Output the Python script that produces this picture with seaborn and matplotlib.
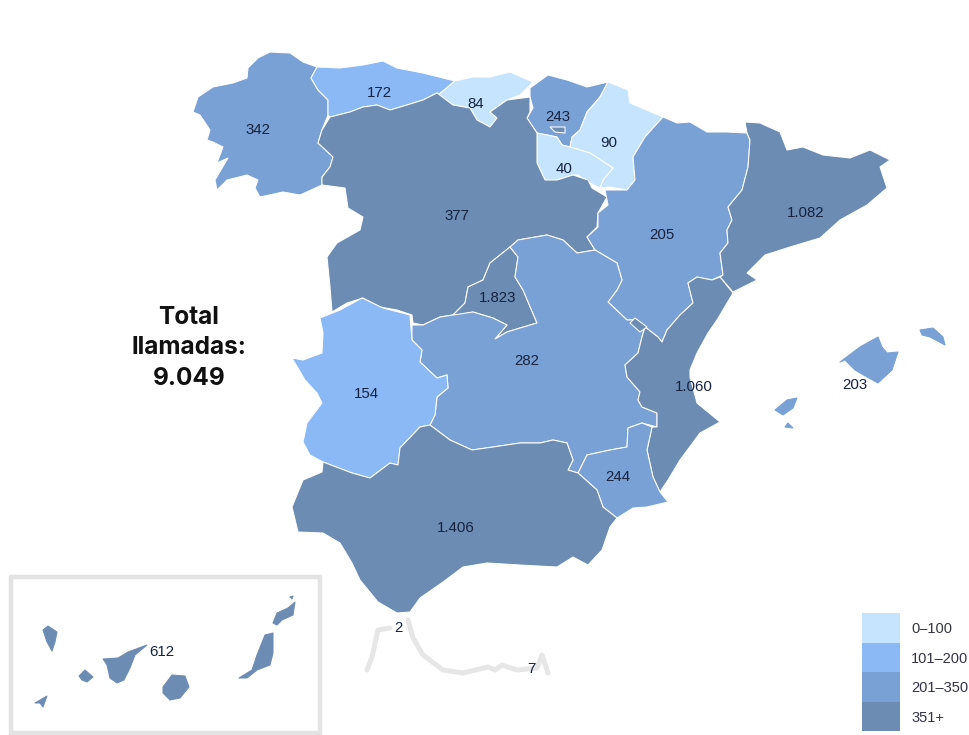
#Choropleth of calls per region in Spain, outlines
import numpy as np
import pandas as pd
import seaborn as sns
import matplotlib.pyplot as plt

regions = ["Galicia", "Asturias", "Cantabria", "Pais Vasco", "Navarra", "La Rioja", "Castilla y Leon",
           "Madrid", "Aragon", "Cataluna", "Castilla-La Mancha", "Extremadura", "Valencia", "Baleares",
           "Murcia", "Andalucia", "Canarias", "Ceuta", "Melilla"]
values = [342, 172, 84, 243, 90, 40, 377, 1823, 205, 1082, 282, 154, 1060, 203, 244, 1406, 612, 2, 7]
label_x = [258, 379, 476, 558, 609, 564, 457, 498, 662, 806, 527, 366, 694, 855, 618, 456, 162, 398, 531]
label_y = [130, 93, 104, 117, 143, 169, 216, 298, 235, 213, 361, 394, 387, 385, 477, 528, 652, 628, 669]

tier_labels = ["0\u2013100", "101\u2013200", "201\u2013350", "351+"]
tier_edges = [0, 100, 200, 350, 100000]
tier_colors = ["#c6e4fd", "#8ab9f6", "#7aa1d5", "#6d8cb3"]
total_lines = ["Total", "llamadas:", "9.049"]

#outlines in picture pixels
galicia = [(193,112),(198,97),(213,87),(233,83),(247,78),(248,68),(258,58),(270,52),(290,53),(303,62),(317,67),(311,78),(318,90),(328,100),(328,115),(322,130),(318,143),(333,157),(330,167),(322,177),(322,185),(300,195),(283,192),(260,197),(255,188),(258,180),(247,175),(227,180),(217,190),(215,180),(228,158),(217,163),(223,147),(213,142),(207,140),(210,130),(200,115)]
asturias = [(317,67),(340,68),(363,65),(383,61),(397,68),(423,73),(455,81),(438,95),(437,93),(423,100),(407,105),(390,110),(377,105),(363,107),(350,112),(330,117),(328,115),(328,100),(318,90),(311,78)]
cantabria = [(455,81),(473,77),(490,77),(510,72),(533,82),(520,95),(507,100),(490,112),(497,118),(490,127),(477,120),(470,108),(453,105),(438,95)]
pais_vasco = [(530,88),(548,75),(567,80),(587,87),(608,82),(600,97),(587,112),(580,130),(572,137),(570,147),(562,145),(557,137),(537,133),(527,118),(533,108),(530,97)]
navarra = [(608,82),(628,90),(630,103),(663,117),(645,137),(633,157),(635,180),(627,190),(610,187),(600,188),(603,180),(613,168),(590,153),(570,147),(572,137),(580,130),(587,112),(600,97)]
rioja = [(537,133),(557,137),(562,145),(570,147),(590,153),(613,168),(603,180),(600,188),(590,183),(578,175),(573,175),(557,180),(552,184),(545,180),(537,163)]
cyl = [(330,117),(350,112),(363,107),(377,105),(390,110),(407,105),(423,100),(437,93),(453,105),(470,108),(477,120),(490,127),(497,118),(490,112),(507,100),(530,97),(530,112),(527,118),(537,133),(537,163),(545,180),(557,180),(573,175),(588,180),(592,188),(607,197),(598,213),(597,227),(587,237),(595,250),(577,253),(563,240),(547,235),(518,240),(510,247),(490,263),(483,280),(468,287),(465,303),(453,315),(440,317),(423,325),(413,323),(412,315),(397,310),(380,307),(363,298),(347,303),(332,312),(330,287),(327,257),(337,243),(360,230),(363,217),(348,208),(345,188),(322,185),(322,177),(330,167),(333,157),(318,143),(322,130)]
madrid = [(510,247),(518,257),(515,277),(523,290),(537,323),(520,328),(507,332),(495,339),(507,325),(493,318),(473,312),(457,315),(453,315),(465,303),(468,287),(483,280),(490,263)]
clm = [(518,240),(547,235),(563,240),(577,253),(595,250),(617,263),(622,280),(617,290),(608,302),(627,320),(633,320),(645,327),(642,337),(638,353),(625,365),(627,377),(640,392),(638,400),(642,407),(657,413),(657,427),(642,423),(628,428),(627,447),(610,450),(587,455),(578,473),(568,470),(573,460),(567,443),(553,440),(540,443),(520,443),(493,447),(472,450),(450,440),(430,425),(435,415),(437,397),(448,388),(447,375),(437,378),(420,362),(422,350),(412,340),(412,325),(423,325),(440,317),(453,315),(473,312),(493,318),(507,325),(495,339),(507,332),(520,328),(537,323),(523,290),(515,277),(518,257),(510,247)]
aragon = [(663,117),(677,123),(690,122),(707,132),(727,132),(747,133),(750,140),(748,167),(742,190),(728,207),(732,220),(727,230),(728,243),(720,253),(723,275),(712,280),(697,277),(688,283),(693,303),(680,315),(667,330),(662,342),(658,337),(645,327),(633,320),(627,320),(608,302),(617,290),(622,280),(617,263),(595,250),(587,237),(598,227),(598,213),(608,205),(605,190),(627,190),(635,180),(633,157),(645,137)]
cataluna = [(745,122),(760,123),(780,132),(787,150),(803,147),(823,155),(850,158),(870,150),(890,160),(880,167),(887,188),(867,205),(840,220),(820,238),(790,247),(765,255),(747,273),(757,280),(737,290),(733,292),(720,277),(723,275),(720,253),(728,243),(727,230),(732,220),(728,207),(742,190),(748,167),(750,140),(747,133)]
valencia = [(697,277),(712,280),(720,277),(733,293),(717,320),(708,333),(697,353),(690,370),(690,377),(697,403),(720,422),(700,433),(680,460),(668,480),(660,492),(653,477),(647,450),(652,427),(657,427),(657,413),(642,407),(638,400),(640,392),(627,377),(625,365),(638,353),(642,337),(645,327),(658,337),(662,342),(667,330),(680,315),(693,303),(688,283)]
ademuz = [(630,323),(635,318),(647,327),(640,332)]
trevino = [(550,127),(565,127),(565,133),(555,132)]
murcia = [(578,473),(587,455),(610,450),(627,447),(628,428),(642,423),(652,427),(647,450),(653,477),(660,492),(668,502),(647,507),(633,508),(617,518),(603,507),(597,490)]
extremadura = [(320,318),(340,310),(362,298),(383,308),(410,315),(412,340),(422,350),(420,362),(437,378),(447,375),(448,388),(437,397),(435,415),(430,425),(420,427),(400,448),(398,465),(390,463),(370,478),(352,473),(323,462),(310,455),(303,442),(307,423),(322,403),(317,393),(305,380),(292,358),(303,360),(322,353),(323,333)]
andalucia = [(323,462),(352,473),(370,478),(390,463),(398,465),(400,448),(420,427),(430,425),(450,440),(472,450),(493,447),(520,443),(540,443),(553,440),(567,443),(573,460),(568,470),(578,473),(597,490),(603,507),(617,518),(610,527),(602,550),(588,565),(573,557),(557,567),(520,565),(487,563),(463,567),(443,582),(420,598),(410,612),(397,613),(378,602),(360,580),(352,563),(340,543),(323,533),(298,532),(292,507),(303,480),(322,472)]
mallorca = [(840,362),(860,347),(878,337),(882,347),(887,353),(898,352),(892,370),(878,383),(867,377),(855,370),(845,360)]
menorca = [(920,330),(933,328),(943,337),(945,345),(930,337),(922,335)]
ibiza = [(775,410),(787,400),(797,398),(793,408),(783,415)]
formentera = [(785,427),(788,423),(793,428)]
la_palma = [(43,630),(48,626),(57,632),(55,642),(52,651),(47,642)]
el_hierro = [(35,703),(47,696),(43,707),(40,703)]
gomera = [(79,676),(85,670),(93,677),(87,682),(82,680)]
tenerife = [(103,659),(118,658),(128,652),(147,645),(135,655),(130,668),(124,680),(117,683),(110,678),(107,665)]
gran_canaria = [(163,687),(172,675),(185,676),(189,687),(180,698),(170,700),(163,693)]
fuerteventura = [(239,678),(252,670),(257,655),(265,635),(273,633),(273,653),(270,665),(257,670),(247,678)]
lanzarote = [(273,623),(277,613),(288,608),(295,602),(293,615),(282,620),(277,625)]
graciosa = [(290,597),(293,596),(292,599)]
ceuta_coast = [(367,670),(372,657),(378,630),(390,628)]
melilla_coast = [(408,620),(413,638),(423,655),(443,670),(463,673),(488,667),(495,670),(502,665),(517,670),(537,668),(542,655),(548,673)]
inset_box = [(11,577),(320,577),(320,733),(11,733),(11,577)]

shapes = {"Galicia": [galicia], "Asturias": [asturias], "Cantabria": [cantabria], "Pais Vasco": [pais_vasco],
          "Navarra": [navarra], "La Rioja": [rioja], "Castilla y Leon": [cyl, trevino], "Madrid": [madrid],
          "Aragon": [aragon], "Cataluna": [cataluna], "Castilla-La Mancha": [clm], "Extremadura": [extremadura],
          "Valencia": [valencia, ademuz], "Baleares": [mallorca, menorca, ibiza, formentera], "Murcia": [murcia],
          "Andalucia": [andalucia],
          "Canarias": [la_palma, el_hierro, gomera, tenerife, gran_canaria, fuerteventura, lanzarote, graciosa]}
islands = ["Baleares", "Canarias"]

df = pd.DataFrame({"region": regions, "value": values, "x": label_x, "y": label_y})
df["tier"] = pd.cut(df["value"], tier_edges, labels=False)
df["label"] = df["value"].map(lambda v: f"{v:,}".replace(",", "."))

sns.set_theme(style="white")
plt.rcParams['font.family'] = ['Liberation Sans', 'DejaVu Sans']
palette = sns.color_palette(tier_colors)

fig = plt.figure(figsize=(9.69, 7.35), dpi=100)
ax = fig.add_axes([0, 0, 1, 1])
ax.set_xlim(0, 969)
ax.set_ylim(735, 0)
ax.axis("off")

# grey outlines first
ax.plot(*zip(*inset_box), color="#e3e3e3", lw=3.2, solid_joinstyle="miter")
ax.plot(*zip(*ceuta_coast), color="#e6e6e6", lw=3.6, solid_capstyle="round")
ax.plot(*zip(*melilla_coast), color="#e6e6e6", lw=3.6, solid_capstyle="round")

for _, row in df.iterrows():
    color = palette[row["tier"]]
    # islands have no white border, it would eat them away
    edge = color if row["region"] in islands else "white"
    for poly in shapes.get(row["region"], []):
        ax.fill(*zip(*poly), facecolor=color, edgecolor=edge, lw=0.75, joinstyle="round")

for _, row in df.iterrows():
    ax.text(row["x"], row["y"], row["label"], ha="center", va="center", fontsize=10.8, color="#15233f")

for y, line in zip([317, 347, 378], total_lines):
    ax.text(189, y, line, ha="center", va="center", fontsize=17.5, fontweight="bold", color="#111111", family="Inter")

# legend swatches as a one column heatmap
lax = fig.add_axes([862 / 969, 1 - 731 / 735, 38 / 969, 118 / 735])
sns.heatmap(np.arange(4).reshape(4, 1), cmap=palette, cbar=False, ax=lax, xticklabels=False, yticklabels=tier_labels)
lax.yaxis.tick_right()
lax.tick_params(axis="y", length=0, pad=8, labelrotation=0, labelsize=10.5, labelcolor="#333344")

fig.savefig("out.png", dpi=100)
